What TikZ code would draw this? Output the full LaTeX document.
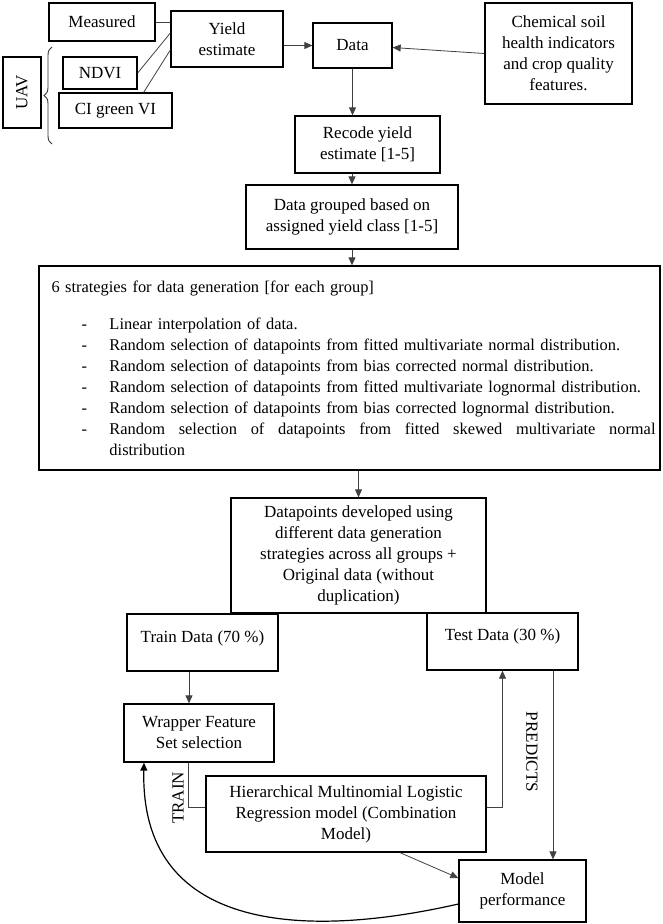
\documentclass[tikz,border=0pt]{standalone}
\usepackage{fontspec}
\setmainfont{Liberation Serif}
\usepackage{tikz}
\usetikzlibrary{arrows.meta}
\usetikzlibrary{calc}
\usetikzlibrary{decorations.pathreplacing}

\begin{document}
\begin{tikzpicture}[x=1pt,y=-1pt,
  blockbox/.style={draw,line width=1.3pt,align=center,inner sep=0pt,
    font=\fontsize{17pt}{21pt}\selectfont},
  link/.style={line width=0.8pt,black!75},
  arr/.style={link,-{Triangle[length=8pt,width=7pt]}},
  sidelabel/.style={font=\fontsize{17pt}{21pt}\selectfont,inner sep=0pt}]
\useasboundingbox (0,0) rectangle (662,924);

% top row
\node[blockbox,minimum width=106pt,minimum height=38pt] (meas) at (102,22) {Measured};
\node[blockbox,minimum width=112pt,minimum height=56pt] (yield) at (227,39) {Yield\\estimate};
\node[blockbox,minimum width=74pt,minimum height=32pt] (ndvi) at (100,73) {NDVI};
\node[blockbox,minimum width=113pt,minimum height=35pt] (cigreen) at (115.5,110.5) {CI green VI};
\node[blockbox,minimum width=71pt,minimum height=38pt,rotate=90] (uav) at (22,92.5) {UAV};
\node[blockbox,minimum width=79pt,minimum height=45pt] (data) at (352.5,45.5) {Data};
\node[blockbox,minimum width=147pt,minimum height=101pt] (chem) at (558.5,53.5)
  {Chemical soil\\health indicators\\and crop quality\\features.};

\draw[line width=0.9pt,black!80,decorate,decoration={brace,amplitude=8pt}]
  (52,144) -- (52,47);

\draw[link] (meas.east) -- (meas.east -| yield.west);
\draw[link] (ndvi.east) -- ([yshift=6pt]yield.west);
\draw[link] (cigreen.north east) ++(-29pt,0pt) coordinate (cig) -- ([yshift=-11pt]yield.west);
\draw[arr] (yield.east |- data.west) -- (data.west);
\draw[arr] (chem.west) -- ([yshift=-2pt]data.east);

% middle column
\node[blockbox,minimum width=145pt,minimum height=57pt] (recode) at (367.5,144.5) {Recode yield\\estimate [1-5]};
\node[blockbox,minimum width=212pt,minimum height=64pt] (group) at (352,217)
  {Data grouped based on\\assigned yield class [1-5]};
\node[blockbox,minimum width=621pt,minimum height=204pt,text width=620pt,align=left,
  font=\fontsize{16.4pt}{21pt}\selectfont] (strat) at (349.5,368)
  {\hspace*{12pt}6 strategies for data generation [for each group]\\[16pt]
   \hspace*{42pt}\makebox[28pt][l]{-}Linear interpolation of data.\\
   \hspace*{42pt}\makebox[28pt][l]{-}Random selection of datapoints from fitted multivariate normal distribution.\\
   \hspace*{42pt}\makebox[28pt][l]{-}Random selection of datapoints from bias corrected normal distribution.\\
   \hspace*{42pt}\makebox[28pt][l]{-}\mbox{Random selection of datapoints from fitted multivariate lognormal distribution.}\\
   \hspace*{42pt}\makebox[28pt][l]{-}Random selection of datapoints from bias corrected lognormal distribution.\\
   \hspace*{42pt}\makebox[28pt][l]{-}\hbox to 546pt{Random\hfill selection\hfill of\hfill datapoints\hfill from\hfill fitted\hfill skewed\hfill multivariate\hfill normal}\\
   \hspace*{70pt}distribution};
\node[blockbox,minimum width=255pt,minimum height=115pt] (points) at (358.5,555.5)
  {Datapoints developed using\\different data generation\\strategies across all groups +\\Original data (without\\duplication)};

\draw[arr] (data.south) -- (data.south |- recode.north);
\draw[arr] (group.north |- recode.south) -- (group.north);
\draw[arr] (group.south) -- (group.south |- strat.north);
\draw[arr] (points.north |- strat.south) -- (points.north);

% model part
\node[blockbox,minimum width=151pt,minimum height=57pt] (train) at (202.5,642.5) {Train Data (70 \%)\\[-10pt]};
\node[blockbox,minimum width=151pt,minimum height=57pt] (test) at (502.5,641.5) {Test Data (30 \%)\\[-8pt]};
\node[blockbox,minimum width=150pt,minimum height=58pt] (wrap) at (199,733) {Wrapper Feature\\Set selection};
\node[blockbox,minimum width=280pt,minimum height=76pt] (hier) at (346,814)
  {Hierarchical Multinomial Logistic\\Regression model (Combination\\Model)};
\node[blockbox,minimum width=127pt,minimum height=62pt] (perf) at (522.5,891) {Model\\performance};

\draw[arr] ([xshift=-10pt]wrap.north |- train.south) -- ([xshift=-10pt]wrap.north);
\draw[link] ([xshift=-11pt]wrap.south) |- ([yshift=7pt]hier.west);
\draw[arr] ([yshift=7pt]hier.east) -| (test.south);
\draw[arr] ([xshift=50.5pt]test.south) -- ([xshift=50.5pt]test.south |- perf.north);
\draw[arr] ([xshift=54pt]hier.south) -- ([yshift=13pt]perf.west);
\draw[line width=1.2pt,-{Triangle[length=8pt,width=7pt]}] ([yshift=-13pt]perf.west)
  .. controls (300,940) and (140,930) .. ([xshift=-55pt]wrap.south);

\node[sidelabel,rotate=90] (trainlbl) at (178,798) {TRAIN};
\node[sidelabel,rotate=-90] (predlbl) at (532,752) {PREDICTS};

\end{tikzpicture}
\end{document}
